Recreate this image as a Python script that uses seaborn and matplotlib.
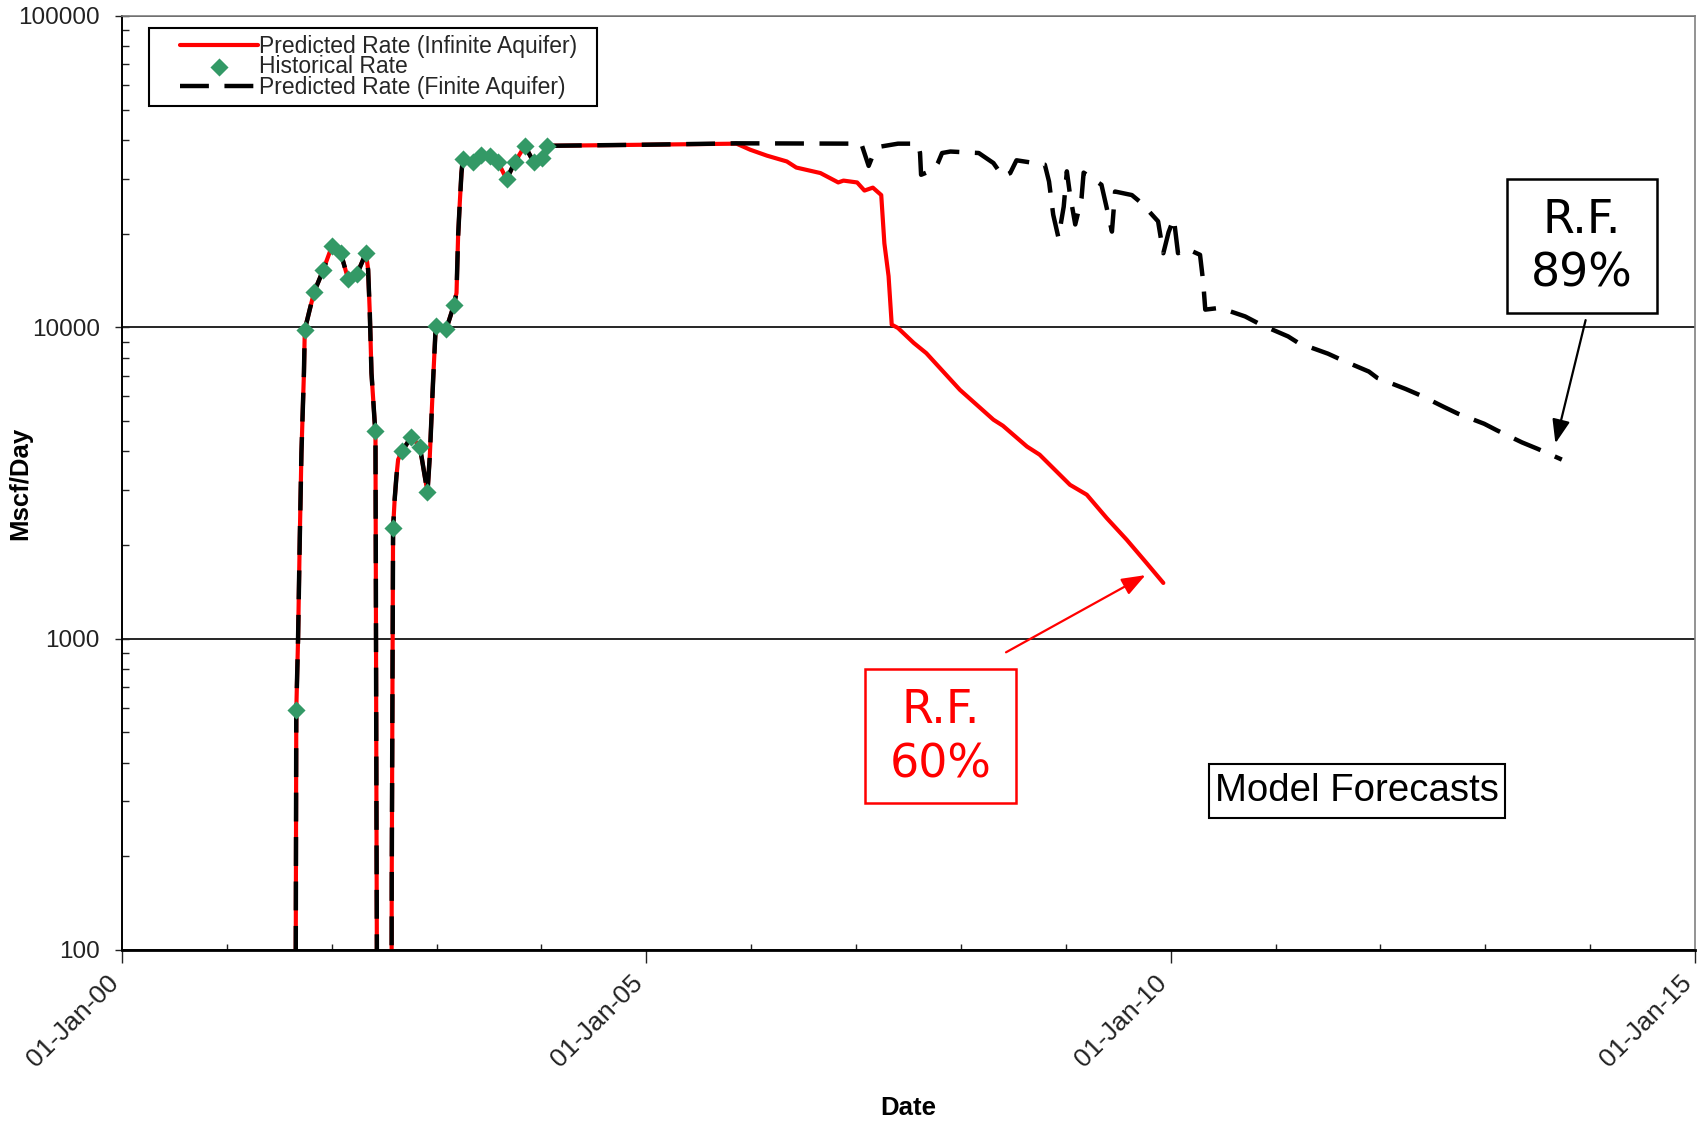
import matplotlib
matplotlib.use("Agg")
import matplotlib.pyplot as plt
import matplotlib.transforms as mtransforms
from matplotlib.patches import Rectangle
from matplotlib.lines import Line2D
from matplotlib.collections import PathCollection
from matplotlib.legend_handler import HandlerLine2D, HandlerPathCollection
import seaborn as sns
import pandas as pd
from matplotlib.ticker import FixedLocator, LogLocator, NullFormatter

# ---------------- data (decimal years, Mscf/Day) ----------------
# history-matched segment shared by both predictions
match_t = [2001.655, 2001.662, 2001.679, 2001.695, 2001.711, 2001.735, 2001.743,
           2001.790, 2001.832, 2001.917, 2002.003, 2002.086, 2002.156, 2002.242,
           2002.327, 2002.347, 2002.363, 2002.379, 2002.410, 2002.417, 2002.426,
           2002.433, 2002.570, 2002.572, 2002.585, 2002.600, 2002.617, 2002.633,
           2002.671, 2002.760, 2002.840, 2002.913, 2002.935, 2002.967, 2002.992,
           2003.094, 2003.164, 2003.190, 2003.205, 2003.221, 2003.237, 2003.250,
           2003.348, 2003.428, 2003.507, 2003.587, 2003.667, 2003.746, 2003.841,
           2003.927, 2004.007, 2004.048, 2004.100, 2005.000]
match_q = [50, 590, 1000, 2080, 3950, 7150, 9820,
           11400, 12980, 15230, 18270, 17330, 14290, 14860,
           17330, 15300, 11100, 7130, 4930, 4630, 320,
           50, 50, 164, 2260, 2800, 3320, 3760,
           4000, 4460, 4140, 2950, 3850, 6790, 10120,
           9910, 11760, 12900, 19600, 25100, 31300, 34770,
           33900, 35800, 35400, 33900, 29900, 33900, 38300,
           33900, 35000, 38300, 38300, 38600]

# infinite aquifer forecast
inf_t = [2005.86, 2005.99, 2006.15, 2006.34, 2006.43, 2006.66, 2006.83, 2006.88,
         2007.01, 2007.08, 2007.16, 2007.24, 2007.27, 2007.31, 2007.34, 2007.40,
         2007.55, 2007.67, 2007.99, 2008.31, 2008.40, 2008.63, 2008.75, 2009.04,
         2009.20, 2009.39, 2009.58, 2009.77, 2009.93]
inf_q = [38900, 37200, 35600, 34100, 32600, 31300, 29200, 29600,
         29200, 27500, 28100, 26600, 18600, 14600, 10200, 9950,
         8910, 8260, 6300, 5050, 4830, 4140, 3900, 3120,
         2900, 2440, 2080, 1750, 1510]

# finite aquifer forecast
fin_t = [2005.86, 2007.05, 2007.12, 2007.15, 2007.24, 2007.40, 2007.59, 2007.61,
         2007.62, 2007.74, 2007.78, 2007.82, 2007.90, 2008.17, 2008.31, 2008.40,
         2008.47, 2008.53, 2008.80, 2008.84, 2008.88, 2008.93, 2008.98, 2009.01,
         2009.04, 2009.09, 2009.15, 2009.17, 2009.34, 2009.39, 2009.44, 2009.47,
         2009.63, 2009.72, 2009.88, 2009.93, 2009.98, 2010.03, 2010.07, 2010.15,
         2010.28, 2010.31, 2010.33, 2010.47, 2010.71, 2010.86, 2011.12, 2011.22,
         2011.50, 2011.64, 2011.89, 2011.97, 2012.24, 2012.39, 2012.61, 2012.74,
         2012.99, 2013.11, 2013.35, 2013.50, 2013.73]
fin_q = [39000, 38900, 33000, 35000, 38100, 38900, 38900, 36300,
         30900, 32100, 33700, 36300, 36700, 36300, 33700, 30500,
         31300, 34400, 33300, 29400, 23000, 19400, 24400, 31700,
         26700, 21400, 26000, 31400, 28700, 24200, 20300, 27300,
         26600, 25100, 21900, 17300, 20200, 22400, 17300, 17900,
         17100, 14000, 11400, 11550, 10840, 10200, 9350, 8900,
         8230, 7830, 7210, 6880, 6340, 6030, 5540, 5280,
         4900, 4670, 4270, 4070, 3760]

# historical rate
hist_t = [2001.662, 2001.743, 2001.832, 2001.917, 2002.003, 2002.086, 2002.156,
          2002.242, 2002.327, 2002.417, 2002.585, 2002.671, 2002.760, 2002.840,
          2002.913, 2002.992, 2003.094, 2003.164, 2003.250, 2003.348, 2003.428,
          2003.507, 2003.587, 2003.667, 2003.746, 2003.841, 2003.927, 2004.007,
          2004.048]
hist_q = [590, 9820, 12980, 15230, 18270, 17330, 14290,
          14860, 17330, 4630, 2260, 4000, 4460, 4140,
          2950, 10120, 9910, 11760, 34770, 33900, 35800,
          35400, 33900, 29900, 33900, 38300, 33900, 35000,
          38300]

x_ticks = [2000, 2005, 2010, 2015]
x_tick_labels = ["01-Jan-00", "01-Jan-05", "01-Jan-10", "01-Jan-15"]
x_minor = [2001, 2002, 2003, 2004, 2006, 2007, 2008, 2009, 2011, 2012, 2013, 2014]
y_ticks = [100, 1000, 10000, 100000]
y_tick_labels = ["100", "1000", "10000", "100000"]

lbl_inf = "Predicted Rate (Infinite Aquifer)"
lbl_hist = "Historical Rate"
lbl_fin = "Predicted Rate (Finite Aquifer)"

# annotation boxes (axes fraction: x0, y0, x1, y1)
rf60_box = (0.4721, 0.1574, 0.5684, 0.3009)
rf89_box = (0.8802, 0.6822, 0.9758, 0.8259)
model_box = (0.6909, 0.1413, 0.8795, 0.1991)
rf60_arrow_tail = (2008.43, 904)
rf60_arrow_head = (2009.76, 1600)
rf89_arrow_tail = (2013.957, 10550)
rf89_arrow_head = (2013.669, 4240)

# ---------------- style ----------------
sns.set_theme(style="ticks")
plt.rcParams['font.family'] = ['Liberation Sans', 'DejaVu Sans']

W, H = 1697, 1123
fig = plt.figure(figsize=(W / 100, H / 100), dpi=100)
ax = fig.add_axes([122 / W, 1 - 950 / H, (1695 - 122) / W, (950 - 16) / H])

inf_df = pd.DataFrame({"Date": match_t + inf_t, "Rate": match_q + inf_q})
fin_df = pd.DataFrame({"Date": match_t + fin_t, "Rate": match_q + fin_q})
hist_df = pd.DataFrame({"Date": hist_t, "Rate": hist_q})

sns.lineplot(data=inf_df, x="Date", y="Rate", color="#ff0000", lw=3.0,
             estimator=None, sort=False, ax=ax, label=lbl_inf, zorder=2)
sns.lineplot(data=fin_df, x="Date", y="Rate", color="black", lw=3.2,
             linestyle=(0, (6.5, 3.5)), estimator=None, sort=False, ax=ax,
             label=lbl_fin, zorder=3)
sns.scatterplot(data=hist_df, x="Date", y="Rate", marker="D", s=85,
                color="#339966", edgecolor="#339966", linewidth=0, ax=ax,
                label=lbl_hist, zorder=4)

ax.set_yscale("log")
ax.set_xlim(2000, 2015)
ax.set_ylim(100, 100000)

ax.set_yticks(y_ticks, labels=y_tick_labels)
ax.yaxis.set_minor_locator(LogLocator(base=10, subs=range(2, 10)))
ax.yaxis.set_minor_formatter(NullFormatter())
ax.set_xticks(x_ticks, labels=x_tick_labels)
ax.xaxis.set_minor_locator(FixedLocator(x_minor))

ax.tick_params(axis="y", which="major", direction="inout", length=10, width=1,
               pad=11, labelsize=17.5, colors="#222222", left=True)
ax.tick_params(axis="y", which="minor", direction="in", length=5, width=1,
               left=True, colors="#222222")
ax.tick_params(axis="x", which="major", direction="out", length=9, width=1,
               pad=8, labelsize=19, colors="#222222", bottom=True)
ax.tick_params(axis="x", which="minor", direction="in", length=4, width=1,
               bottom=True, colors="#222222")
shift = mtransforms.ScaledTranslation(-16 / 100, 3 / 100, fig.dpi_scale_trans)
for lab in ax.get_xticklabels():
    lab.set_rotation(45)
    lab.set_ha("right")
    lab.set_va("top")
    lab.set_rotation_mode("anchor")
    lab.set_transform(lab.get_transform() + shift)

ax.yaxis.grid(True, which="major", color="black", lw=1.2)
ax.xaxis.grid(False)

for s in ["left", "bottom"]:
    ax.spines[s].set_color("black")
    ax.spines[s].set_linewidth(1.4)
ax.spines["bottom"].set_linewidth(2.0)
for s in ["top", "right"]:
    ax.spines[s].set_visible(True)
    ax.spines[s].set_color("#808080")
    ax.spines[s].set_linewidth(1.2)

ax.set_ylabel("Mscf/Day", fontsize=18.5, fontweight="bold", color="black")
ax.yaxis.set_label_coords(-0.0572, 0.5)
ax.set_xlabel("Date", fontsize=18.5, fontweight="bold", color="black")
ax.xaxis.set_label_coords(0.5, -0.156)

# legend in the original order
handles, labels = ax.get_legend_handles_labels()
hmap = dict(zip(labels, handles))
order = [lbl_inf, lbl_hist, lbl_fin]
leg = ax.legend([hmap[k] for k in order], [lbl_inf + "  ", lbl_hist, lbl_fin],
                loc="upper left",
                bbox_to_anchor=(0.0174, 0.987), borderaxespad=0,
                fontsize=16.5, frameon=True, fancybox=False, framealpha=1,
                edgecolor="black", borderpad=0.3, handlelength=4.45,
                handletextpad=0.05, labelspacing=-0.11,
                handler_map={Line2D: HandlerLine2D(xpad=1.05),
                             PathCollection: HandlerPathCollection(xpad=1.05)})
leg.get_frame().set_linewidth(1.5)

# annotation boxes and texts
def boxed_text(box, text, color, size, family, lw, dy=0.0, ls=1.0):
    x0, y0, x1, y1 = box
    ax.add_patch(Rectangle((x0, y0), x1 - x0, y1 - y0, transform=ax.transAxes,
                           fc="white", ec=color, lw=lw, zorder=6))
    ax.text((x0 + x1) / 2, (y0 + y1) / 2 + dy, text, transform=ax.transAxes,
            ha="center", va="center", color=color, fontsize=size,
            family=family, linespacing=ls, zorder=7)

boxed_text(rf60_box, "R.F.\n60%", "#ff0000", 33, "DejaVu Sans", 1.8,
           dy=-0.002, ls=1.25)
boxed_text(rf89_box, "R.F.\n89%", "black", 33, "DejaVu Sans", 1.8,
           dy=-0.002, ls=1.25)
boxed_text(model_box, "Model Forecasts", "black", 27.6, "Liberation Sans", 1.5)

ax.annotate("", xy=rf60_arrow_head, xytext=rf60_arrow_tail,
            arrowprops=dict(arrowstyle="-|>,head_length=0.8,head_width=0.3",
                            mutation_scale=18, color="#ff0000", lw=1.6,
                            shrinkA=0, shrinkB=0), zorder=6)
ax.annotate("", xy=rf89_arrow_head, xytext=rf89_arrow_tail,
            arrowprops=dict(arrowstyle="-|>,head_length=0.8,head_width=0.3",
                            mutation_scale=18, color="black", lw=1.6,
                            shrinkA=0, shrinkB=0), zorder=6)

fig.savefig("out.png", dpi=100)
